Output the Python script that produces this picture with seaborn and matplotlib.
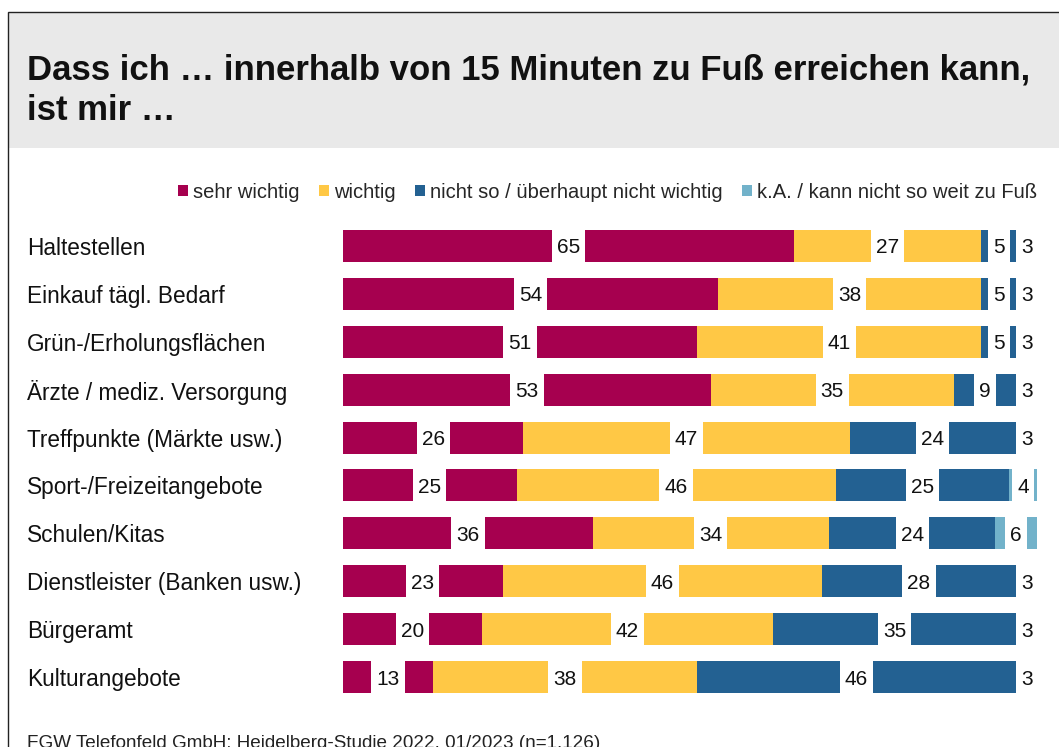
import matplotlib
matplotlib.use("Agg")
import matplotlib.pyplot as plt
from matplotlib.patches import Rectangle, Patch
import matplotlib.transforms as mtrans
import seaborn as sns
import pandas as pd
import numpy as np

categories = ["Haltestellen", "Einkauf tägl. Bedarf", "Grün-/Erholungsflächen",
              "Ärzte / mediz. Versorgung", "Treffpunkte (Märkte usw.)",
              "Sport-/Freizeitangebote", "Schulen/Kitas",
              "Dienstleister (Banken usw.)", "Bürgeramt", "Kulturangebote"]
sehr_wichtig = [65, 54, 51, 53, 26, 25, 36, 23, 20, 13]
wichtig = [27, 38, 41, 35, 47, 46, 34, 46, 42, 38]
nicht_wichtig = [5, 5, 5, 9, 24, 25, 24, 28, 35, 46]
ka = [3, 3, 3, 3, 3, 4, 6, 3, 3, 3]
series_names = ["sehr wichtig", "wichtig", "nicht so / überhaupt nicht wichtig",
                "k.A. / kann nicht so weit zu Fuß"]
colors = ["#A6004F", "#FFC845", "#236192", "#72B2CA"]
title = "Dass ich … innerhalb von 15 Minuten zu Fuß erreichen kann,\nist mir …"
source = "FGW Telefonfeld GmbH: Heidelberg-Studie 2022, 01/2023 (n=1.126)"

sns.set_theme(style="white")
plt.rcParams["font.family"] = ["Liberation Sans", "DejaVu Sans"]

W, H = 1059, 747
fig = plt.figure(figsize=(W / 100, H / 100), dpi=100)
fig.patch.set_facecolor("white")

def fx(px):
    return px / W

def fy(py):
    return 1 - py / H

# title band and frame
fig.patches.append(Rectangle((fx(8), fy(148)), 1.2, fy(12) - fy(148), transform=fig.transFigure,
                             facecolor="#E9E9E9", edgecolor="none", zorder=0))
fig.patches.append(Rectangle((fx(8), fy(800)), 1.2, fy(12) - fy(800), transform=fig.transFigure,
                             facecolor="none", edgecolor="#222222", linewidth=1.0, zorder=1))
fig.text(fx(27), fy(90), title, fontsize=25, fontweight="bold", ha="left", va="center",
         color="#111111", linespacing=1.3)
fig.text(fx(27), fy(735), source, fontsize=13.6, ha="left", va="top", color="#222222")

ax = fig.add_axes([fx(343), fy(701), fx(1037) - fx(343), fy(222) - fy(701)])

series = [sehr_wichtig, wichtig, nicht_wichtig, ka]
df = pd.DataFrame({"cat": categories})
cums = np.cumsum(np.array(series), axis=0)
bar_w = 0.67
for i in range(len(series) - 1, -1, -1):
    df["v"] = cums[i]
    sns.barplot(data=df, x="v", y="cat", orient="y", color=colors[i], width=bar_w,
                linewidth=0, saturation=1, ax=ax, order=categories)

ax.set_xlim(0, 100)
ax.set_ylim(len(categories) - 0.5, -0.5)
ax.axis("off")

# labels
texts = []
for i, vals in enumerate(series):
    for j, v in enumerate(vals):
        x = cums[i][j] - v / 2
        t = ax.text(x, j, str(v), ha="center", va="center_baseline", fontsize=15,
                    color="#111111", zorder=5)
        texts.append(t)

fig.canvas.draw()
r = fig.canvas.get_renderer()
px_per_unit = ax.transData.transform((1, 0))[0] - ax.transData.transform((0, 0))[0]
for t in texts:
    bb = t.get_window_extent(r)
    wd = (bb.width + 10) / px_per_unit
    x, y = t.get_position()
    ax.add_patch(Rectangle((x - wd / 2, y - bar_w / 2), wd, bar_w, facecolor="white",
                           edgecolor="none", zorder=4))

# category labels (figure x, data y)
trans = mtrans.blended_transform_factory(fig.transFigure, ax.transData)
for j, c in enumerate(categories):
    ax.text(fx(27), j, c, transform=trans, ha="left", va="center_baseline",
            fontsize=16.3, color="#111111")

handles = [Patch(facecolor=c, edgecolor="none") for c in colors]
fig.legend(handles, series_names, loc="center right", bbox_to_anchor=(fx(1037), fy(192)),
           ncol=4, frameon=False, fontsize=14.5, handlelength=0.5, handleheight=0.5,
           handletextpad=0.25, columnspacing=0.95, borderaxespad=0, borderpad=0)

fig.savefig("out.png", dpi=100)
